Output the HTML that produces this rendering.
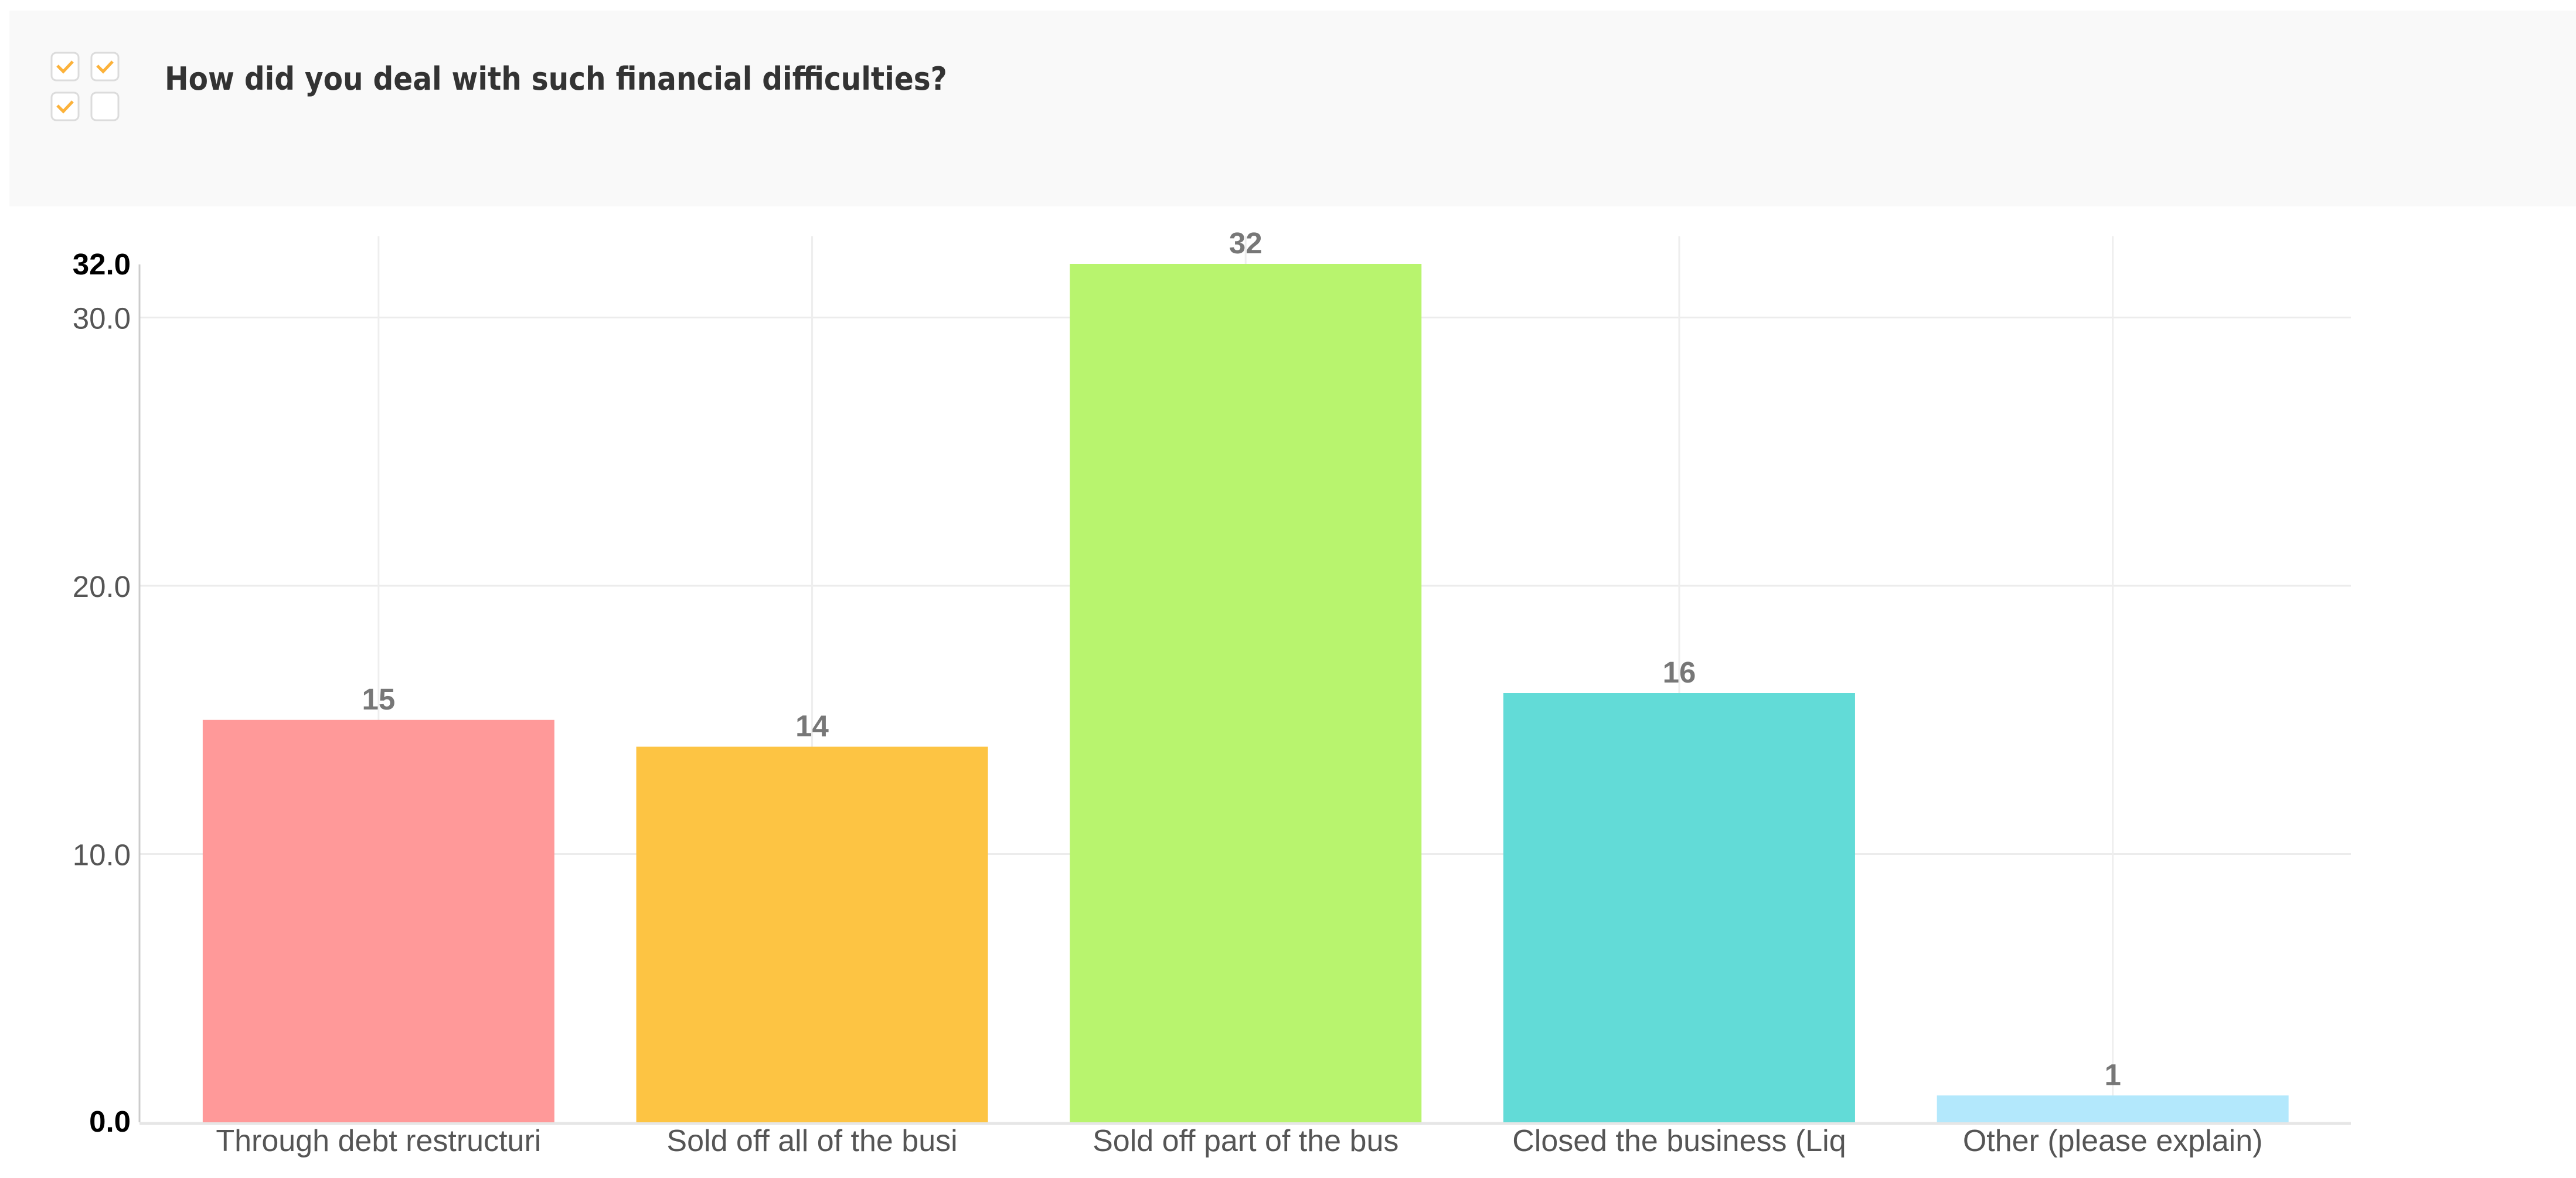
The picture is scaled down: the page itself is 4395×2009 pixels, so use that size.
<!DOCTYPE html>
<html><head><meta charset="utf-8"><style>
html,body{margin:0;padding:0;background:#fff;}
svg{display:block;}
</style></head><body>
<svg id="chart" width="4395" height="2009" viewBox="0 0 4395 2009" xmlns="http://www.w3.org/2000/svg">
<rect x="16" y="18" width="4379" height="334" fill="#f9f9f9"/>
<g>
<rect x="88" y="90" width="46" height="47" rx="8" fill="#fff" stroke="#dcdcdc" stroke-width="3"/>
<rect x="156" y="90" width="46" height="47" rx="8" fill="#fff" stroke="#dcdcdc" stroke-width="3"/>
<rect x="88" y="158" width="46" height="47" rx="8" fill="#fff" stroke="#dcdcdc" stroke-width="3"/>
<rect x="156" y="158" width="46" height="47" rx="8" fill="#fff" stroke="#dcdcdc" stroke-width="3"/>
<path d="M98 112 L108 122 L124 105" fill="none" stroke="#fcb23a" stroke-width="5"/>
<path d="M166 112 L176 122 L192 105" fill="none" stroke="#fcb23a" stroke-width="5"/>
<path d="M98 180 L108 190 L124 173" fill="none" stroke="#fcb23a" stroke-width="5"/>
</g>
<text x="281" y="153" font-family="'DejaVu Sans Condensed','Liberation Sans',sans-serif" font-weight="bold" font-size="54" fill="#333">How did you deal with such financial difficulties?</text>
<g id="grid"></g>
<g id="bars"></g>
<g id="labels"></g>
</svg>
<script>
const categories = ["Through debt restructuri","Sold off all of the busi","Sold off part of the bus","Closed the business (Liq","Other (please explain)"];
const values = [15,14,32,16,1];
const colors = ["#ff9999","#fdc443","#b8f46e","#62dbd7","#b3e8fc"];
const yTicks = [10,20,30];
const yMax = 32;

const NS="http://www.w3.org/2000/svg";
const plotLeft=238, plotRight=4011, y0=1914, yTop=450;
const bandStart=276, band=739.7, barW=600;
function yS(v){return y0-(y0-yTop)*v/yMax;}
function xC(i){return bandStart+band*(i+0.5);}
function mk(tag,attrs,parent){const e=document.createElementNS(NS,tag);for(const k in attrs)e.setAttribute(k,attrs[k]);parent.appendChild(e);return e;}
const grid=document.getElementById('grid'),bars=document.getElementById('bars'),labels=document.getElementById('labels');
const font="'Liberation Sans',Arial,sans-serif";
yTicks.forEach(t=>{
  const l=mk('line',{x1:plotLeft,x2:plotRight,y1:yS(t),y2:yS(t),stroke:'#ececec','stroke-width':3},grid);
  
  
  const tx=mk('text',{x:223,y:yS(t)+19,'text-anchor':'end','font-family':font,'font-size':51,fill:'#555'},labels);
  tx.textContent=t.toFixed(1);
  
  
});
categories.forEach((c,i)=>{
  const g=mk('line',{x1:xC(i),x2:xC(i),y1:403,y2:y0,stroke:'#eeeeee','stroke-width':3},grid);
  
  
});
const yl=mk('line',{x1:plotLeft,x2:plotLeft,y1:451,y2:y0,stroke:'#cccccc','stroke-width':3},grid);


const t0=mk('text',{x:223,y:1930,'text-anchor':'end','font-family':font,'font-size':51,'font-weight':'bold',fill:'#000'},labels);
t0.textContent='0.0';


const tm=mk('text',{x:223,y:468,'text-anchor':'end','font-family':font,'font-size':51,'font-weight':'bold',fill:'#000'},labels);
tm.textContent=yMax.toFixed(1);


values.forEach((v,i)=>{
  const r=mk('rect',{x:xC(i)-barW/2,y:yS(v),width:barW,height:y0-yS(v),fill:colors[i]},bars);
  
  
  const vl=mk('text',{x:xC(i),y:yS(v)-18,'text-anchor':'middle','font-family':font,'font-size':51,'font-weight':'bold',fill:'#777'},labels);
  vl.textContent=String(v);
  
  
  const cl=mk('text',{x:xC(i),y:1963,'text-anchor':'middle','font-family':font,'font-size':52,fill:'#555'},labels);
  cl.textContent=categories[i];
  
  
});
const xl=mk('line',{x1:plotLeft,x2:plotRight,y1:y0+2,y2:y0+2,stroke:'#e6e6e6','stroke-width':5},grid);


</script>
</body></html>
